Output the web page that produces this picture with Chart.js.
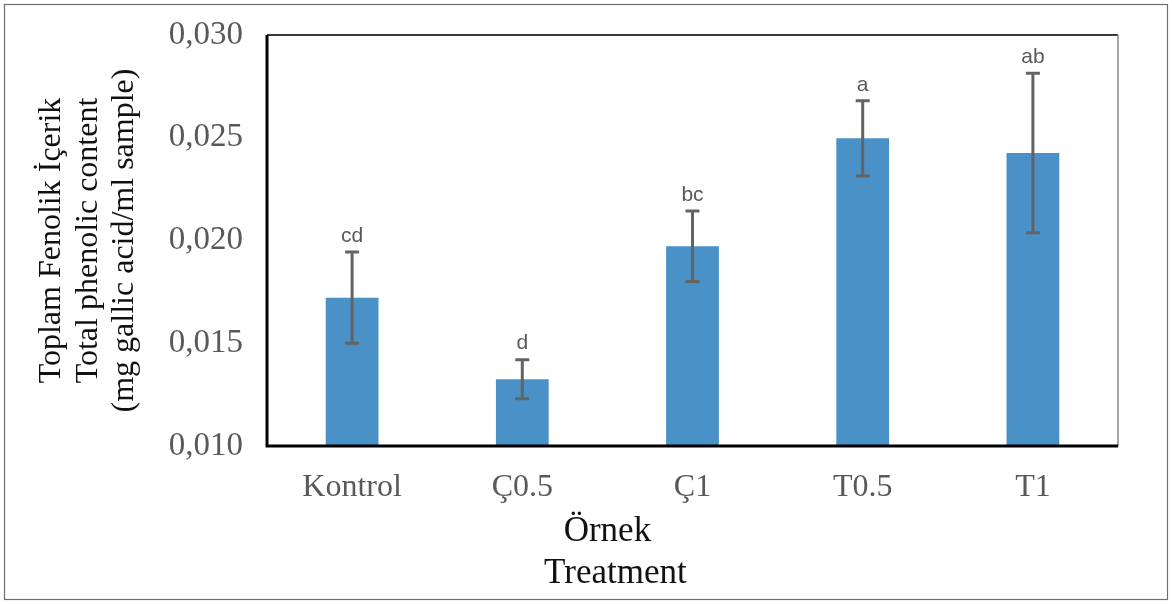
<!DOCTYPE html>
<html>
<head>
<meta charset="utf-8">
<script src="https://cdn.jsdelivr.net/npm/chart.js@4"></script>
<style>
  html, body { margin: 0; padding: 0; background: #fff; }
  #wrap { width: 1172px; height: 604px; }
</style>
</head>
<body>
<div id="wrap"><canvas id="chart" width="1172" height="604"></canvas></div>
<script>
// data
const categories = ["Kontrol", "Ç0.5", "Ç1", "T0.5", "T1"];
const phenolic = [0.01722, 0.01325, 0.01972, 0.02497, 0.02426];
const errors = [0.00222, 0.00095, 0.00172, 0.00183, 0.00388];
const groupLetters = ["cd", "d", "bc", "a", "ab"];
const yTitle = ["Toplam Fenolik İçerik", "Total phenolic content", "(mg gallic acid/ml sample)"];
const xTitle = ["Örnek", "Treatment"];

// error bars, letters, frames, x title
const extras = {
  id: "extras",
  beforeDraw(chart) {
    const ctx = chart.ctx;
    ctx.save();
    ctx.fillStyle = "#fff";
    ctx.fillRect(0, 0, chart.width, chart.height);
    ctx.strokeStyle = "#6e6e6e";
    ctx.lineWidth = 1.2;
    ctx.strokeRect(4.5, 4.5, chart.width - 9, chart.height - 9);
    ctx.restore();
  },
  afterDatasetsDraw(chart) {
    const ctx = chart.ctx;
    const y = chart.scales.y;
    const meta = chart.getDatasetMeta(0);
    ctx.save();
    meta.data.forEach((bar, i) => {
      const top = y.getPixelForValue(phenolic[i] + errors[i]);
      const bot = y.getPixelForValue(phenolic[i] - errors[i]);
      ctx.strokeStyle = "#636363";
      ctx.lineWidth = 3;
      ctx.beginPath();
      ctx.moveTo(bar.x, top); ctx.lineTo(bar.x, bot);
      ctx.moveTo(bar.x - 7, top); ctx.lineTo(bar.x + 7, top);
      ctx.moveTo(bar.x - 7, bot); ctx.lineTo(bar.x + 7, bot);
      ctx.stroke();
      ctx.fillStyle = "#595959";
      ctx.font = "21px 'Liberation Sans', Arial, sans-serif";
      ctx.textAlign = "center";
      ctx.textBaseline = "middle";
      ctx.fillText(groupLetters[i], bar.x, top - 16);
    });
    ctx.restore();
  },
  afterDraw(chart) {
    const ctx = chart.ctx;
    const a = chart.chartArea;
    ctx.save();
    // plot frame
    ctx.strokeStyle = "#3a3a3a";
    ctx.lineWidth = 2;
    ctx.beginPath();
    ctx.moveTo(a.left, a.top); ctx.lineTo(a.right, a.top);
    ctx.stroke();
    ctx.strokeStyle = "#8a8a8a";
    ctx.lineWidth = 1.5;
    ctx.beginPath();
    ctx.moveTo(a.right, a.top); ctx.lineTo(a.right, a.bottom);
    ctx.stroke();
    ctx.strokeStyle = "#000";
    ctx.lineWidth = 3;
    ctx.beginPath();
    ctx.moveTo(a.left, a.top); ctx.lineTo(a.left, a.bottom); ctx.lineTo(a.right, a.bottom);
    ctx.stroke();
    // x axis title, a bit left of centre as in the figure
    ctx.fillStyle = "#111";
    ctx.font = "35px 'Liberation Serif', 'Times New Roman', serif";
    ctx.textAlign = "center";
    ctx.textBaseline = "middle";
    const cx = a.left + (a.right - a.left) * 0.4;
    ctx.fillText(xTitle[0], cx, a.bottom + 86);
    ctx.fillText(xTitle[1], cx + 8, a.bottom + 128);
    ctx.restore();
  }
};

const serif = "'Liberation Serif', 'Times New Roman', serif";

new Chart(document.getElementById("chart"), {
  type: "bar",
  data: {
    labels: categories,
    datasets: [{
      data: phenolic,
      backgroundColor: "#4a91c8",
      barPercentage: 1,
      categoryPercentage: 0.31
    }]
  },
  options: {
    responsive: false,
    animation: false,
    layout: { padding: { top: 35, right: 54, left: 0, bottom: 0 } },
    plugins: {
      legend: { display: false },
      tooltip: { enabled: false }
    },
    scales: {
      x: {
        grid: { display: false, drawTicks: false },
        border: { display: false },
        ticks: { color: "#595959", font: { family: serif, size: 32 }, padding: 22, maxRotation: 0 },
        afterFit(scale) { scale.height = 158; }
      },
      y: {
        min: 0.010,
        max: 0.030,
        grid: { display: false, drawTicks: false },
        border: { display: false },
        ticks: {
          stepSize: 0.005,
          color: "#595959",
          font: { family: serif, size: 33 },
          padding: 24,
          callback: (v) => v.toFixed(3).replace(".", ",")
        },
        title: {
          display: true,
          text: yTitle,
          color: "#111",
          font: { family: serif, size: 32, lineHeight: 1.15 },
          padding: { top: 33, bottom: 0 }
        },
        afterFit(scale) {
          scale.width = 267;
          // keep the tick padding from pushing the plot area down
          scale.paddingTop = 0;
          scale.paddingBottom = 0;
        }
      }
    }
  },
  plugins: [extras]
});
</script>
</body>
</html>
